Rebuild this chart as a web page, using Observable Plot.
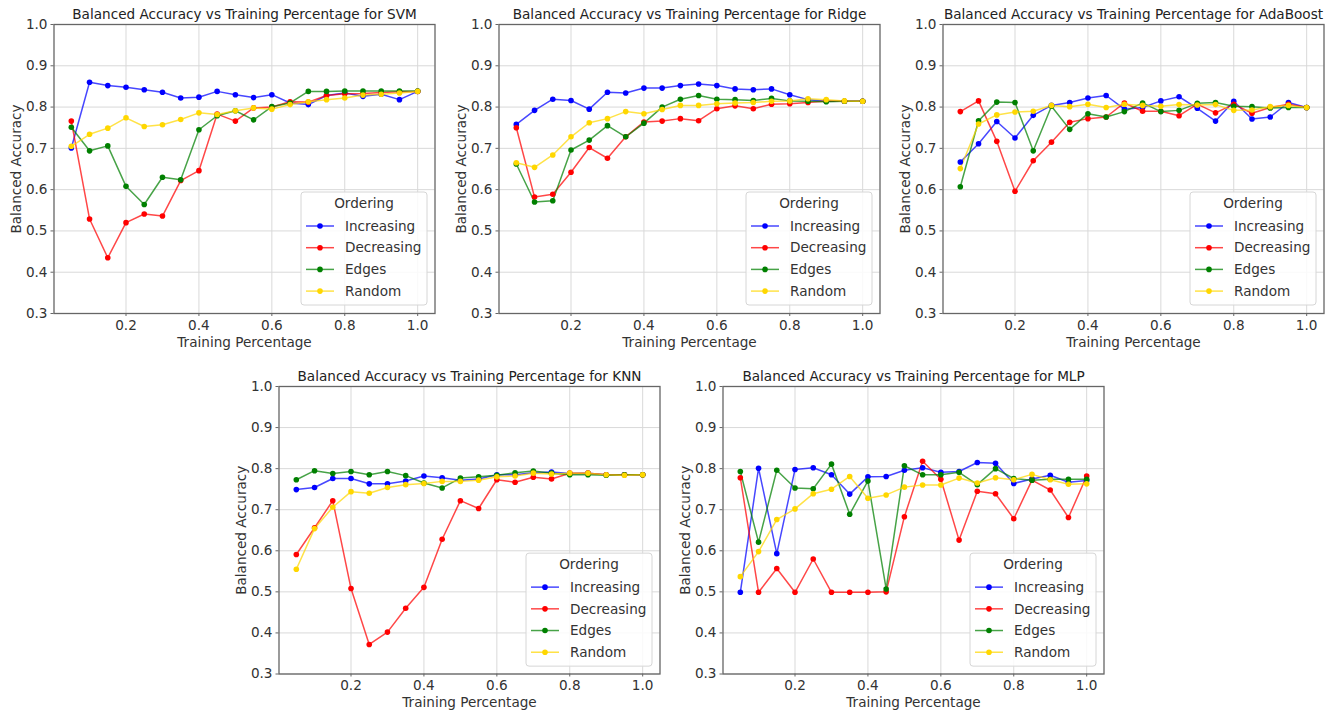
<!DOCTYPE html>
<html>
<head>
<meta charset="utf-8">
<script src="https://cdn.jsdelivr.net/npm/d3@7"></script>
<script src="https://cdn.jsdelivr.net/npm/@observablehq/plot@0.6"></script>
<style>
  body { margin: 0; background: #fff; }
  #root { position: relative; width: 1335px; height: 713px; overflow: hidden; }
  .panel { position: absolute; }
</style>
</head>
<body>
<div id="root"></div>
<script>
// ---- data ----
const trainingPct = [0.05,0.10,0.15,0.20,0.25,0.30,0.35,0.40,0.45,0.50,0.55,0.60,0.65,0.70,0.75,0.80,0.85,0.90,0.95,1.00];
const orderings = ["Increasing","Decreasing","Edges","Random"];
const orderingColors = ["#0000ff","#ff0000","#008000","#ffd700"];
const xTicks = [0.2,0.4,0.6,0.8,1.0];
const yTicks = [0.3,0.4,0.5,0.6,0.7,0.8,0.9,1.0];

const svmIncreasing = [0.701,0.860,0.852,0.848,0.842,0.836,0.822,0.824,0.838,0.830,0.823,0.830,0.810,0.806,0.828,0.834,0.826,0.831,0.818,0.838];
const svmDecreasing = [0.766,0.529,0.435,0.520,0.541,0.536,0.622,0.646,0.783,0.766,0.798,0.800,0.813,0.812,0.828,0.832,0.833,0.835,0.837,0.838];
const svmEdges      = [0.751,0.694,0.706,0.608,0.564,0.630,0.624,0.745,0.779,0.791,0.769,0.801,0.810,0.838,0.838,0.839,0.839,0.839,0.839,0.839];
const svmRandom     = [0.705,0.734,0.749,0.774,0.753,0.757,0.770,0.786,0.782,0.791,0.798,0.795,0.806,0.813,0.818,0.822,0.829,0.831,0.834,0.838];

const ridgeIncreasing = [0.758,0.792,0.819,0.816,0.795,0.836,0.834,0.846,0.846,0.852,0.856,0.852,0.844,0.842,0.844,0.830,0.818,0.814,0.814,0.814];
const ridgeDecreasing = [0.750,0.582,0.589,0.642,0.702,0.676,0.728,0.764,0.766,0.772,0.767,0.796,0.803,0.796,0.807,0.808,0.811,0.815,0.814,0.814];
const ridgeEdges      = [0.662,0.570,0.573,0.696,0.720,0.755,0.728,0.761,0.800,0.819,0.828,0.819,0.818,0.816,0.821,0.815,0.814,0.813,0.814,0.814];
const ridgeRandom     = [0.665,0.654,0.684,0.728,0.762,0.772,0.789,0.784,0.794,0.804,0.804,0.808,0.810,0.811,0.814,0.815,0.820,0.818,0.815,0.814];

const adaIncreasing = [0.667,0.711,0.765,0.725,0.780,0.804,0.811,0.822,0.828,0.795,0.799,0.815,0.825,0.797,0.766,0.814,0.771,0.776,0.811,0.799];
const adaDecreasing = [0.789,0.815,0.717,0.596,0.670,0.715,0.763,0.772,0.776,0.810,0.790,0.790,0.779,0.807,0.786,0.807,0.785,0.799,0.807,0.799];
const adaEdges      = [0.607,0.767,0.812,0.811,0.694,0.802,0.746,0.784,0.776,0.789,0.810,0.789,0.792,0.809,0.811,0.802,0.801,0.798,0.799,0.799];
const adaRandom     = [0.651,0.759,0.781,0.788,0.790,0.804,0.801,0.807,0.799,0.807,0.804,0.802,0.806,0.805,0.806,0.792,0.793,0.801,0.804,0.799];

const knnIncreasing = [0.749,0.754,0.776,0.776,0.763,0.763,0.770,0.782,0.778,0.772,0.775,0.785,0.785,0.790,0.792,0.788,0.789,0.785,0.785,0.785];
const knnDecreasing = [0.591,0.656,0.722,0.508,0.372,0.402,0.460,0.511,0.628,0.722,0.703,0.773,0.767,0.779,0.775,0.789,0.789,0.785,0.785,0.785];
const knnEdges      = [0.773,0.795,0.788,0.793,0.785,0.793,0.783,0.765,0.753,0.777,0.780,0.784,0.790,0.794,0.789,0.785,0.785,0.784,0.785,0.785];
const knnRandom     = [0.555,0.654,0.706,0.744,0.740,0.754,0.761,0.764,0.769,0.769,0.772,0.780,0.782,0.789,0.787,0.789,0.789,0.785,0.784,0.785];

const mlpIncreasing = [0.499,0.801,0.593,0.798,0.802,0.785,0.738,0.780,0.781,0.796,0.802,0.791,0.793,0.815,0.813,0.764,0.775,0.784,0.767,0.771];
const mlpDecreasing = [0.778,0.499,0.557,0.499,0.580,0.499,0.499,0.499,0.500,0.683,0.818,0.774,0.626,0.745,0.739,0.678,0.772,0.748,0.681,0.782];
const mlpEdges      = [0.793,0.621,0.796,0.753,0.751,0.811,0.689,0.770,0.507,0.807,0.785,0.785,0.791,0.761,0.800,0.776,0.772,0.774,0.774,0.774];
const mlpRandom     = [0.537,0.598,0.676,0.702,0.739,0.750,0.781,0.728,0.736,0.755,0.760,0.760,0.777,0.765,0.778,0.773,0.786,0.773,0.762,0.763];

const modelNames = ["SVM","Ridge","AdaBoost","KNN","MLP"];
const modelSeries = [
  [svmIncreasing, svmDecreasing, svmEdges, svmRandom],
  [ridgeIncreasing, ridgeDecreasing, ridgeEdges, ridgeRandom],
  [adaIncreasing, adaDecreasing, adaEdges, adaRandom],
  [knnIncreasing, knnDecreasing, knnEdges, knnRandom],
  [mlpIncreasing, mlpDecreasing, mlpEdges, mlpRandom]
];

// ---- layout ----
const FONT = "DejaVu Sans";
const FS = 13.6;
const TEXT = "#333";
const mL = 53.5, mT = 24, innerW = 381, W = 446;
const layout = [
  {left: 0,   top: 0,     innerH: 289},
  {left: 445, top: 0,     innerH: 289},
  {left: 889, top: 0,     innerH: 289},
  {left: 224.5, top: 361.5, innerH: 287.5},
  {left: 668.5, top: 361.5, innerH: 287.5}
];

const root = document.getElementById("root");

modelNames.forEach((name, k) => {
  const L = layout[k];
  const H = mT + L.innerH + 46;
  const data = [];
  orderings.forEach((o, i) => modelSeries[k][i].forEach((v, j) => data.push({x: trainingPct[j], y: v, ordering: o})));

  const svg = Plot.plot({
    width: W, height: H,
    marginLeft: mL, marginTop: mT, marginRight: W - mL - innerW, marginBottom: H - mT - L.innerH,
    style: {fontFamily: FONT, fontSize: FS + "px", color: TEXT, background: "transparent", overflow: "visible"},
    x: {domain: [0.0025, 1.0475]},
    y: {domain: [0.3, 1.0]},
    color: {domain: orderings, range: orderingColors},
    marks: [
      Plot.gridX(xTicks, {stroke: "#d9d9d9", strokeOpacity: 1, strokeWidth: 1}),
      Plot.gridY(yTicks, {stroke: "#d9d9d9", strokeOpacity: 1, strokeWidth: 1}),
      Plot.lineY(data, {x: "x", y: "y", z: "ordering", stroke: "ordering", strokeWidth: 1.5, strokeOpacity: 0.72}),
      Plot.dot(data, {x: "x", y: "y", fill: "ordering", r: 2.8, stroke: "none"}),
      Plot.frame({stroke: "#666", strokeWidth: 1.3}),
      Plot.axisX(xTicks, {tickFormat: d3.format(".1f"), tickSize: 3, tickPadding: 3.5, stroke: "#666", fill: TEXT, label: null, fontSize: FS}),
      Plot.axisY(yTicks, {tickFormat: d3.format(".1f"), tickSize: 3, tickPadding: 3.5, stroke: "#666", fill: TEXT, label: null, fontSize: FS}),
      Plot.text([`Balanced Accuracy vs Training Percentage for ${name}`], {text: d => d, frameAnchor: "top", lineAnchor: "middle", textAnchor: "middle", dy: -9.5, fontSize: FS, fill: "#222"}),
      Plot.text(["Training Percentage"], {text: d => d, frameAnchor: "bottom", lineAnchor: "middle", textAnchor: "middle", dy: 29, fontSize: FS, fill: TEXT}),
      Plot.text(["Balanced Accuracy"], {text: d => d, frameAnchor: "left", lineAnchor: "middle", textAnchor: "middle", rotate: -90, dx: -37, fontSize: FS, fill: TEXT})
    ]
  });

  // legend (lower right, inside axes)
  const g = d3.select(svg).append("g").attr("font-family", FONT).attr("font-size", FS).attr("text-anchor", "start");
  const bx = mL + 247.5, by = mT + 168 * (L.innerH / 289), bw = 126, bh = 113;
  g.append("rect").attr("x", bx).attr("y", by).attr("width", bw).attr("height", bh)
    .attr("rx", 3).attr("fill", "white").attr("fill-opacity", 0.85).attr("stroke", "#d6d6d6");
  g.append("text").attr("x", bx + bw / 2).attr("y", by + 11.5).attr("dy", "0.35em")
    .attr("text-anchor", "middle").attr("fill", TEXT).text("Ordering");
  orderings.forEach((o, i) => {
    const yy = by + 34 + i * 21.7;
    g.append("line").attr("x1", bx + 5).attr("x2", bx + 33).attr("y1", yy).attr("y2", yy)
      .attr("stroke", orderingColors[i]).attr("stroke-width", 1.5).attr("stroke-opacity", 0.72);
    g.append("circle").attr("cx", bx + 19).attr("cy", yy).attr("r", 2.8).attr("fill", orderingColors[i]);
    g.append("text").attr("x", bx + 44).attr("y", yy).attr("dy", "0.35em")
      .attr("text-anchor", "start").attr("fill", TEXT).text(o);
  });

  const div = document.createElement("div");
  div.className = "panel";
  div.style.left = L.left + "px";
  div.style.top = L.top + "px";
  div.appendChild(svg);
  root.appendChild(div);
});
</script>
</body>
</html>
